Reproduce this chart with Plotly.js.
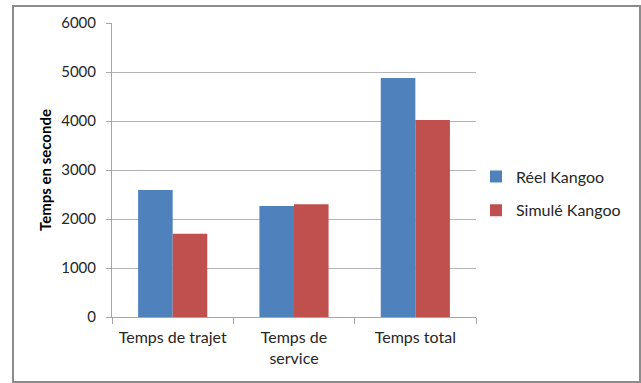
<!DOCTYPE html>
<html>
<head>
<meta charset="utf-8">
<script src="https://cdn.plot.ly/plotly-3.0.1.min.js"></script>
<style>
  html, body { margin: 0; padding: 0; background: #fff; }
  #wrap { position: relative; width: 641px; height: 383px; }
  #chart { width: 641px; height: 383px; }
  #frame { position: absolute; left: 12px; top: 5px; width: 625px; height: 374px;
           border: 2px solid #8c8c8c; pointer-events: none; }
</style>
</head>
<body>
<div id="wrap">
  <div id="chart"></div>
  <div id="frame"></div>
</div>
<script>
const categories = ["Temps de trajet", "Temps de<br>service", "Temps total"];
const reelKangoo = [2590, 2265, 4880];
const simuleKangoo = [1700, 2300, 4020];
const seriesNames = ["Réel Kangoo", "Simulé Kangoo"];
const yTicks = [0, 1000, 2000, 3000, 4000, 5000, 6000];

const font = "Lato, 'Noto Sans', 'DejaVu Sans', sans-serif";

const data = [
  { type: "bar", name: seriesNames[0], x: categories, y: reelKangoo,
    legendgroup: "a", marker: { color: "#4F81BD" } },
  { type: "bar", name: seriesNames[1], x: categories, y: simuleKangoo,
    legendgroup: "b", marker: { color: "#C0504D" } }
];

const layout = {
  width: 641, height: 383,
  margin: { l: 112, r: 165, t: 23, b: 66 },
  paper_bgcolor: "#fff", plot_bgcolor: "#fff",
  font: { family: font, size: 14, color: "#262626" },
  barmode: "group",
  bargap: 0.43, bargroupgap: 0,
  showlegend: true,
  legend: { x: 1.0, xanchor: "left", y: 0.42, yanchor: "middle",
            tracegroupgap: 10, font: { size: 16, color: "#262626" } },
  xaxis: {
    type: "category",
    showgrid: false,
    showline: true, linecolor: "#a6a6a6", linewidth: 1,
    ticks: "outside", tickson: "boundaries", ticklen: 6, tickcolor: "#a6a6a6",
    ticklabelstandoff: 6,
    tickfont: { size: 16 },
    zeroline: false
  },
  yaxis: {
    range: [0, 6000],
    tickvals: yTicks,
    showgrid: true, gridcolor: "#b5b5b5", gridwidth: 1,
    showline: true, linecolor: "#a6a6a6", linewidth: 1,
    ticks: "outside", ticklen: 5, tickcolor: "#a6a6a6",
    ticklabelstandoff: 7,
    tickfont: { size: 15 },
    zeroline: false,
    title: { text: "<b>Temps en seconde</b>", font: { size: 15, color: "#000" }, standoff: 5 }
  }
};

Plotly.newPlot("chart", data, layout, { displayModeBar: false, staticPlot: true });
</script>
</body>
</html>
